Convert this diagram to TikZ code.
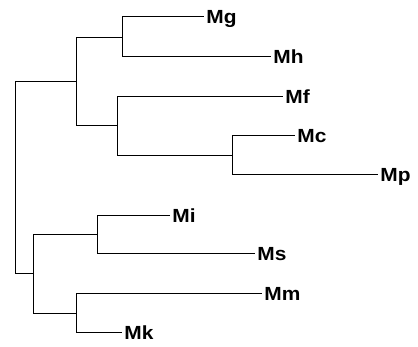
\documentclass[tikz,border=0pt]{standalone}
\usepackage{fontspec}
\setmainfont{Liberation Sans}
\begin{document}
\begin{tikzpicture}[x=1pt,y=-1pt,
  branch/.style={draw=black,line width=1pt},
  leaf/.style={anchor=west,inner xsep=2pt,inner ysep=0pt,text height=13.5pt,text depth=0pt,
    xscale=1.1,font=\fontsize{19}{22}\selectfont\bfseries}]
\useasboundingbox (0,0) rectangle (418,347);
% internal nodes
\coordinate (root) at (15,178);
\coordinate (A) at (76,82);
\coordinate (GH) at (122,37.5);
\coordinate (FC) at (117,126);
\coordinate (CP) at (232,155.5);
\coordinate (B) at (33,274);
\coordinate (IS) at (97,235);
\coordinate (MK) at (76,313.5);
% leaves
\node[leaf] (Mg) at (204,17) {Mg};
\node[leaf] (Mh) at (271,57) {Mh};
\node[leaf] (Mf) at (283,97) {Mf};
\node[leaf] (Mc) at (295,136) {Mc};
\node[leaf] (Mp) at (378,175) {Mp};
\node[leaf] (Mi) at (170,216) {Mi};
\node[leaf] (Ms) at (255,254) {Ms};
\node[leaf] (Mm) at (262,294) {Mm};
\node[leaf] (Mk) at (122,333) {Mk};
% connectors
\draw[branch] (root) |- (A);
\draw[branch] (root) |- (B);
\draw[branch] (A) |- (GH);
\draw[branch] (A) |- (FC);
\draw[branch] (GH) |- (Mg.west);
\draw[branch] (GH) |- (Mh.west);
\draw[branch] (FC) |- (Mf.west);
\draw[branch] (FC) |- (CP);
\draw[branch] (CP) |- (Mc.west);
\draw[branch] (CP) |- (Mp.west);
\draw[branch] (B) |- (IS);
\draw[branch] (B) |- (MK);
\draw[branch] (IS) |- (Mi.west);
\draw[branch] (IS) |- (Ms.west);
\draw[branch] (MK) |- (Mm.west);
\draw[branch] (MK) |- (Mk.west);
\end{tikzpicture}
\end{document}
